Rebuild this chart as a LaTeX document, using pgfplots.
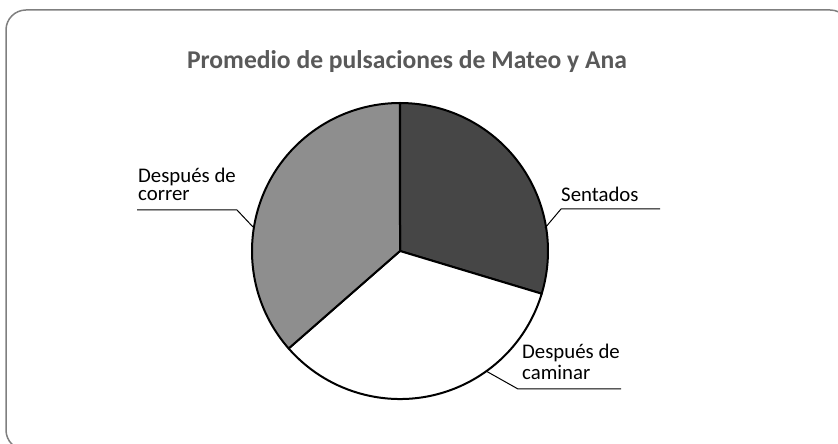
\documentclass[border=0pt]{standalone}
\usepackage{pgfplots}
\usepackage{pgfplotstable}
\pgfplotsset{compat=1.18}
\usepackage{fontspec}
\setmainfont{Carlito}
\definecolor{sdark}{HTML}{464646}
\definecolor{slight}{HTML}{8E8E8E}
\definecolor{titlegray}{HTML}{595959}
\definecolor{framegray}{HTML}{7F7F7F}

\pgfplotstableread{
label value
Sentados 70
Caminar 80
Correr 86
}\piedata
\pgfplotstablegetelem{0}{value}\of\piedata \let\va\pgfplotsretval
\pgfplotstablegetelem{1}{value}\of\piedata \let\vb\pgfplotsretval
\pgfplotstablegetelem{2}{value}\of\piedata \let\vc\pgfplotsretval
\pgfmathsetmacro\total{\va+\vb+\vc}
\pgfmathsetmacro\aA{90}
\pgfmathsetmacro\aB{90-360*(\va/\total)}
\pgfmathsetmacro\aC{\aB-360*(\vb/\total)}
\pgfmathsetmacro\aD{\aC-360*(\vc/\total)}

\begin{document}
\begin{tikzpicture}
\path (0,0) rectangle (838pt,444pt);
\clip (0,0) rectangle (838pt,444pt);
\begin{scope}[overlay]
\begin{axis}[
  at={(0,0)}, anchor=south west,
  scale only axis, width=838pt, height=444pt,
  xmin=0, xmax=838, ymin=0, ymax=444,
  enlargelimits=false, hide axis, clip=false,
]
% frame
\draw[framegray, line width=1.5pt, rounded corners=20pt] (axis cs:6,434) rectangle (axis cs:850,-6);
% title
\node[font=\fontsize{25.6}{30}\selectfont\bfseries, text=titlegray] at (axis cs:407,382) {Promedio de pulsaciones de Mateo y Ana};
% slices
\filldraw[fill=sdark, draw=black, line width=2pt, line join=round] (axis cs:400,193) -- ++(\aA:148pt) arc[start angle=\aA, end angle=\aB, radius=148pt] -- cycle;
\filldraw[fill=white, draw=black, line width=2pt, line join=round] (axis cs:400,193) -- ++(\aB:148pt) arc[start angle=\aB, end angle=\aC, radius=148pt] -- cycle;
\filldraw[fill=slight, draw=black, line width=2pt, line join=round] (axis cs:400,193) -- ++(\aC:148pt) arc[start angle=\aC, end angle=\aD, radius=148pt] -- cycle;
% leader lines
\draw[black, line width=1pt] (axis cs:545,216) -- (axis cs:561,235) -- (axis cs:660,235);
\draw[black, line width=1pt] (axis cs:486,73) -- (axis cs:518,55) -- (axis cs:621,55);
\draw[black, line width=1pt] (axis cs:253,217) -- (axis cs:237,234) -- (axis cs:137,234);
% labels
\node[font=\fontsize{20.8}{24}\selectfont, anchor=base west, inner sep=0pt] at (axis cs:561,242) {Sentados};
\node[font=\fontsize{20.8}{24}\selectfont, anchor=base west, inner sep=0pt] at (axis cs:522,85) {Después de};
\node[font=\fontsize{20.8}{24}\selectfont, anchor=base west, inner sep=0pt] at (axis cs:522,64) {caminar};
\node[font=\fontsize{20.8}{24}\selectfont, anchor=base west, inner sep=0pt] at (axis cs:138,261) {Después de};
\node[font=\fontsize{20.8}{24}\selectfont, anchor=base west, inner sep=0pt] at (axis cs:138,243) {correr};
\end{axis}
\end{scope}
\end{tikzpicture}
\end{document}
